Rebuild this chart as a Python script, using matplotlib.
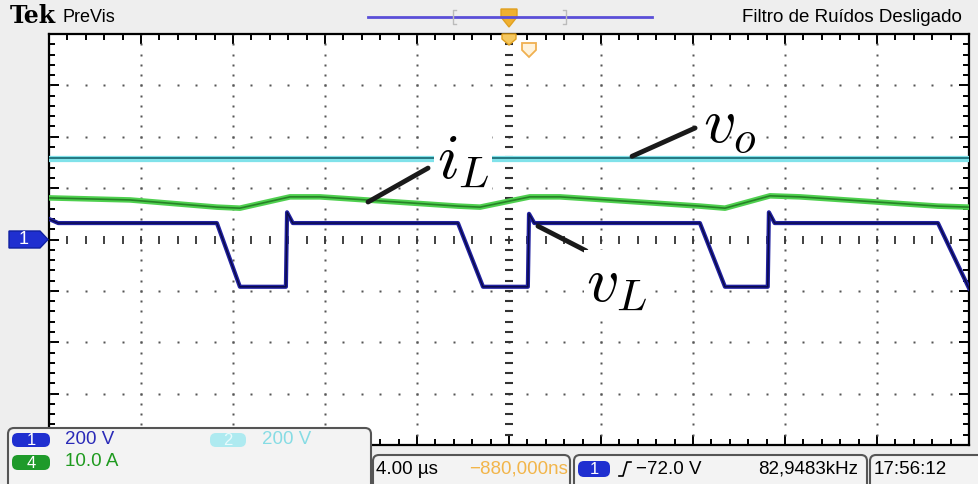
import numpy as np
import matplotlib
matplotlib.use("Agg")
import matplotlib.pyplot as plt
from matplotlib.patches import FancyBboxPatch, Polygon
from matplotlib import font_manager as fm

# ---------------- data (time in us, levels in screen divisions) ----------------
vl_t = [-20.0, -19.6, -12.70, -11.70, -9.70, -9.65, -9.40, -2.22, -1.13, 0.82, 0.87, 1.10,
        8.30, 9.39, 11.25, 11.30, 11.55, 18.65, 20.0]
vl_y = [0.40, 0.32, 0.32, -0.92, -0.92, 0.53, 0.32, 0.32, -0.92, -0.92, 0.50, 0.32,
        0.32, -0.92, -0.92, 0.53, 0.32, 0.32, -0.95]

il_t = [-20.0, -16.48, -12.70, -11.70, -9.52, -8.22, -2.22, -1.26, 0.91, 2.22,
        8.30, 9.39, 11.35, 12.65, 18.65, 20.0]
il_y = [0.81, 0.77, 0.63, 0.61, 0.83, 0.83, 0.65, 0.63, 0.83, 0.83,
        0.65, 0.61, 0.85, 0.83, 0.65, 0.63]

vo_t = [-20.0, 20.0]
vo_y = [1.57, 1.57]

ch_labels = ["200 V", "200 V", "10.0 A"]
timebase = "4.00 µs"
trig_pos = "−880,000ns"
trig_level = "−72.0 V"
freq = "82,9483kHz"
clock = "17:56:12"

# ---------------- fonts ----------------
names = {f.name for f in fm.fontManager.ttflist}
if "Liberation Sans Narrow" in names:
    narrow = "Liberation Sans Narrow"
elif "Liberation Sans" in names:
    narrow = "Liberation Sans"
else:
    narrow = "DejaVu Sans"
plt.rcParams["mathtext.fontset"] = "cm"

W, H = 979, 484
fig = plt.figure(figsize=(W / 100, H / 100), dpi=100, facecolor="#eeeeee")

x0, x1, y0, y1 = 49, 969, 34, 445
ax = fig.add_axes([x0 / W, 1 - y1 / H, (x1 - x0) / W, (y1 - y0) / H])
ax.set_facecolor("white")
ax.set_xlim(-20, 20)
ax.set_ylim(-4, 4)
for s in ax.spines.values():
    s.set_linewidth(1.6)
    s.set_color("black")
ax.set_xticks(np.arange(-20, 20.1, 4))
ax.set_xticks(np.arange(-20, 20.1, 0.8), minor=True)
ax.set_yticks(np.arange(-4, 4.1, 1))
ax.set_yticks(np.arange(-4, 4.1, 0.2), minor=True)
ax.tick_params(which="both", direction="in", top=True, right=True, bottom=True, left=True,
               labelbottom=False, labelleft=False, color="black")
ax.tick_params(which="major", length=7, width=1.4)
ax.tick_params(which="minor", length=4, width=1.4)

# grid dots
dot_c = "#555555"
for k in range(-3, 4):
    if k == 0:
        continue
    xs = np.arange(-20, 20.01, 0.8)
    ax.plot(xs, np.full_like(xs, k), ls="none", marker="s", ms=1.5, color=dot_c, mec="none")
for k in range(-4, 5):
    if k == 0:
        continue
    ys = np.arange(-4, 4.01, 0.2)
    ax.plot(np.full_like(ys, 4 * k), ys, ls="none", marker="s", ms=1.6, color=dot_c, mec="none")
# center cross
xs = np.arange(-20, 20.01, 0.8)
ax.plot(xs, np.zeros_like(xs), ls="none", marker="|", ms=6, mew=1.3, color="#333333")
ys = np.arange(-4, 4.01, 0.2)
ax.plot(np.zeros_like(ys), ys, ls="none", marker="_", ms=6, mew=1.5, color="#333333")

# traces
ax.plot(vo_t, vo_y, color="#80e2ea", lw=4.5, zorder=3, solid_capstyle="butt")
ax.plot(vo_t, [v + 0.02 for v in vo_y], color="#1f6f78", lw=1.3, zorder=3.1)
ax.plot(il_t, il_y, color="#4fd04f", lw=4, zorder=3)
ax.plot(il_t, il_y, color="#1d6e1d", lw=1.2, zorder=3.1, alpha=0.8)
ax.plot(vl_t, vl_y, color="#2020a0", lw=3, zorder=3)
ax.plot(vl_t, vl_y, color="#0a0a45", lw=1.0, zorder=3.1)

# annotations
ax.plot([8.09, 5.35], [2.17, 1.62], color="#1a1a1a", lw=3.5, zorder=5, solid_capstyle="round")
ax.plot([-3.52, -6.13], [1.39, 0.73], color="#1a1a1a", lw=3.5, zorder=5, solid_capstyle="round")
ax.plot([1.26, 3.35], [0.26, -0.22], color="#1a1a1a", lw=3.5, zorder=5, solid_capstyle="round")
bb = dict(facecolor="white", edgecolor="none", pad=2)
ax.text(9.6, 2.2, r"$v_o$", fontsize=46, ha="center", va="center", zorder=6)
ax.text(-2.0, 1.55, r"$i_L$", fontsize=46, ha="center", va="center", zorder=6, bbox=bb)
ax.text(4.7, -0.85, r"$v_L$", fontsize=46, ha="center", va="center", zorder=6, bbox=bb)

# ---------------- overlay (screen decorations) ----------------
ov = fig.add_axes([0, 0, 1, 1], zorder=10)
ov.set_xlim(0, W)
ov.set_ylim(H, 0)
ov.axis("off")
ov.patch.set_alpha(0)

# top bar
ov.text(10, 16, "Tek", fontsize=17, fontweight="bold", family="DejaVu Serif", va="center", ha="left")
ov.text(63, 17, "PreVis", fontsize=13, family=narrow, va="center", ha="left")
ov.text(962, 18, "Filtro de Ruídos Desligado", fontsize=13.5, family=narrow, va="center", ha="right")
ov.plot([368, 652], [17, 17], color="#5a4fd8", lw=2)
for bx, d in ((453, 1), (566, -1)):
    ov.plot([bx + 3 * d, bx, bx, bx + 3 * d], [10, 10, 24, 24], color="#bbbbbb", lw=1)
ov.add_patch(Polygon([[501, 9], [517, 9], [517, 17], [509, 27], [501, 17]], closed=True,
                     facecolor="#f0b030", edgecolor="#e0a020", lw=1))
ov.add_patch(Polygon([[502, 34], [516, 34], [516, 39], [509, 45], [502, 39]], closed=True,
                     facecolor="#f5c860", edgecolor="#e0a020", lw=1, zorder=11))
ov.add_patch(Polygon([[522, 43], [536, 43], [536, 50], [529, 57], [522, 50]], closed=True,
                     facecolor="#fff3dc", edgecolor="#f0b050", lw=1.3))

# channel 1 ground marker
ov.add_patch(Polygon([[9, 231], [40, 231], [48, 239.5], [40, 248], [9, 248]], closed=True,
                     facecolor="#1f2fd0", edgecolor="#1020a0", lw=1))
ov.text(24, 240, "1", color="white", fontsize=13, ha="center", va="center", family=narrow)

# bottom boxes
def box(xa, ya, xb, yb):
    ov.add_patch(FancyBboxPatch((xa, ya), xb - xa, yb - ya, boxstyle="round,pad=0,rounding_size=6",
                                facecolor="#f3f3f3", edgecolor="#555555", lw=1.5))

box(8, 428, 371, 492)
box(373, 455, 570, 492)
box(574, 455, 867, 492)
box(870, 455, 990, 492)

def badge(xa, ya, xb, yb, fc, txt, tc="white"):
    ov.add_patch(FancyBboxPatch((xa, ya), xb - xa, yb - ya, boxstyle="round,pad=0,rounding_size=6",
                                facecolor=fc, edgecolor="none"))
    ov.text((xa + xb) / 2, (ya + yb) / 2 + 0.5, txt, color=tc, fontsize=12, ha="center",
            va="center", family=narrow)

badge(12, 433, 50, 447, "#1f2fd0", "1")
badge(210, 433, 246, 447, "#aeeaf0", "2", "#e8fbfd")
badge(12, 455, 50, 470, "#1e9a2a", "4")
badge(578, 461, 610, 477, "#1f2fd0", "1")

fs = 13.5
ov.text(65, 440, ch_labels[0], color="#2a2ab8", fontsize=fs, va="center", family=narrow)
ov.text(262, 440, ch_labels[1], color="#86dce4", fontsize=fs, va="center", family=narrow)
ov.text(65, 462, ch_labels[2], color="#1e9a1e", fontsize=fs, va="center", family=narrow)
ov.text(376, 469, timebase, color="black", fontsize=fs, va="center", family=narrow)
ov.text(568, 469, trig_pos, color="#f2b54a", fontsize=fs, va="center", ha="right", family=narrow)
ov.plot([619, 623, 627, 631], [476, 476, 462, 462], color="black", lw=1.2)
ov.text(636, 469, trig_level, color="black", fontsize=fs, va="center", family=narrow)
ov.text(858, 469, freq, color="black", fontsize=fs, va="center", ha="right", family=narrow)
ov.text(874, 469, clock, color="black", fontsize=fs, va="center", family=narrow)

fig.savefig("out.png", dpi=100, facecolor=fig.get_facecolor())
